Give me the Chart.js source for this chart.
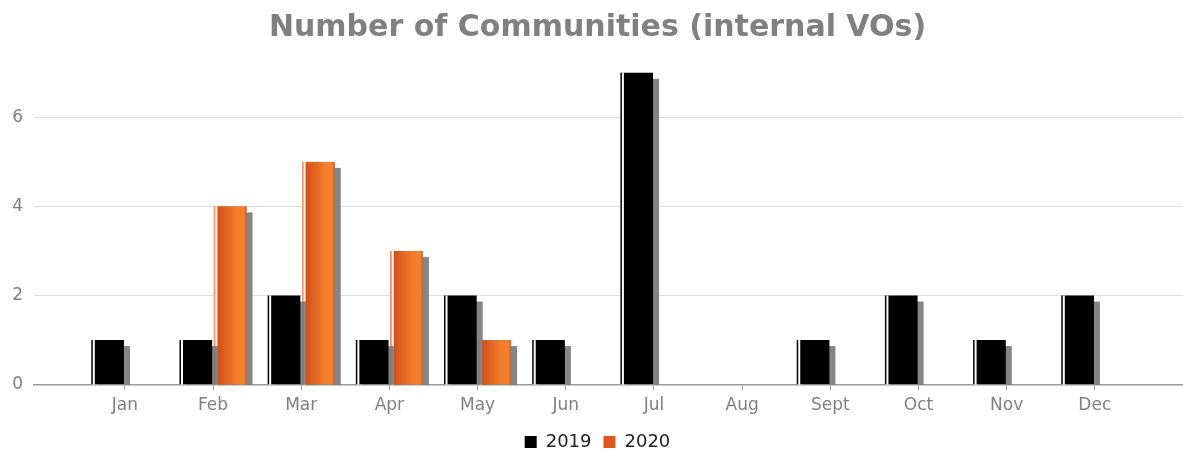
<!DOCTYPE html>
<html>
<head>
<meta charset="utf-8">
<script src="https://cdn.jsdelivr.net/npm/chart.js@4"></script>
<style>
  html, body { margin: 0; padding: 0; background: #fff; }
  #wrap { width: 1183px; height: 452px; }
</style>
</head>
<body>
<div id="wrap"><canvas id="myChart"></canvas></div>
<script>
// Données
const months = ['Jan', 'Feb', 'Mar', 'Apr', 'May', 'Jun', 'Jul', 'Aug', 'Sept', 'Oct', 'Nov', 'Dec'];
const values2019 = [1, 1, 2, 1, 2, 1, 7, 0, 1, 2, 1, 2];
const values2020 = [0, 4, 5, 3, 1, 0, 0, 0, 0, 0, 0, 0];

// Les mois sont placés en x = 1..12 sur un axe linéaire
const toPoints = arr => arr.map((v, i) => ({ x: i + 1, y: v }));

// Ombre grise + filet blanc + dégradé orange sur les barres
const barStyle = {
    id: 'barStyle',
    beforeDatasetDraw(chart, args) {
        const ctx = chart.ctx;
        const bottom = chart.scales.y.getPixelForValue(0);
        ctx.save();
        ctx.fillStyle = 'rgba(120,120,120,0.9)';
        args.meta.data.forEach(bar => {
            const h = bottom - bar.y;
            if (h < 1) return;
            const l = bar.x - bar.width / 2;
            ctx.fillRect(l + 6, bar.y + 6, bar.width, h - 6);
        });
        ctx.restore();
    },
    afterDatasetDraw(chart, args) {
        const ctx = chart.ctx;
        const bottom = chart.scales.y.getPixelForValue(0);
        ctx.save();
        args.meta.data.forEach(bar => {
            const h = bottom - bar.y;
            if (h < 1) return;
            const l = bar.x - bar.width / 2;
            const r = bar.x + bar.width / 2;
            if (args.index === 1) {
                const g = ctx.createLinearGradient(l + 3, 0, r, 0);
                g.addColorStop(0, '#d04e1a');
                g.addColorStop(0.65, '#f37b2c');
                g.addColorStop(0.9, '#f5822f');
                g.addColorStop(1, '#d9601f');
                ctx.fillStyle = g;
                ctx.fillRect(l + 3.5, bar.y, r - l - 3.5, h);
                ctx.fillStyle = '#ec9a72';
                ctx.fillRect(l, bar.y, 1.5, h);
            }
            ctx.fillStyle = '#ffffff';
            ctx.fillRect(l + 1.5, bar.y, 2, h);
        });
        ctx.restore();
    }
};

const ctx = document.getElementById('myChart').getContext('2d');
const chart = new Chart(ctx, {
    type: 'bar',
    data: {
        datasets: [
            {
                label: '2019',
                data: toPoints(values2019),
                backgroundColor: '#000000',
                categoryPercentage: 0.78,
                barPercentage: 0.95
            },
            {
                label: '2020',
                data: toPoints(values2020),
                backgroundColor: '#e0561c',
                categoryPercentage: 0.78,
                barPercentage: 0.95
            }
        ]
    },
    options: {
        responsive: true,
        maintainAspectRatio: false,
        animation: false,
        layout: { padding: { left: 12, right: 0, top: 0, bottom: -9 } },
        scales: {
            x: {
                type: 'linear',
                min: -0.03,
                max: 13,
                offset: false,
                afterBuildTicks: scale => {
                    scale.ticks = months.map((m, i) => ({ value: i + 1 }));
                },
                afterFit: scale => { scale.height = 36.4; },
                ticks: {
                    autoSkip: false,
                    maxRotation: 0,
                    color: '#808080',
                    font: { family: 'DejaVu Sans', size: 17 },
                    padding: 6,
                    callback: v => months[v - 1] || ''
                },
                grid: {
                    offset: false,
                    drawOnChartArea: false,
                    drawTicks: true,
                    tickLength: 5,
                    color: '#999'
                },
                border: { display: true, color: '#999', width: 1.5 }
            },
            y: {
                min: 0,
                max: 7.4,
                afterBuildTicks: scale => {
                    scale.ticks = [0, 2, 4, 6].map(v => ({ value: v }));
                },
                afterFit: scale => { scale.width = 22; },
                ticks: {
                    color: '#808080',
                    font: { family: 'DejaVu Sans', size: 17 },
                    padding: 11
                },
                grid: { color: '#dddddd', drawTicks: false },
                border: { display: false }
            }
        },
        plugins: {
            title: {
                display: true,
                text: 'Number of Communities (internal VOs)',
                color: '#808080',
                font: { family: 'DejaVu Sans', size: 30, weight: 'bold' },
                padding: { top: 10, bottom: 9 }
            },
            legend: {
                position: 'bottom',
                labels: {
                    color: '#222222',
                    font: { family: 'DejaVu Sans', size: 18 },
                    boxWidth: 12,
                    boxHeight: 12,
                    padding: 12
                }
            },
            tooltip: { enabled: false }
        }
    },
    plugins: [barStyle]
});
</script>
</body>
</html>
